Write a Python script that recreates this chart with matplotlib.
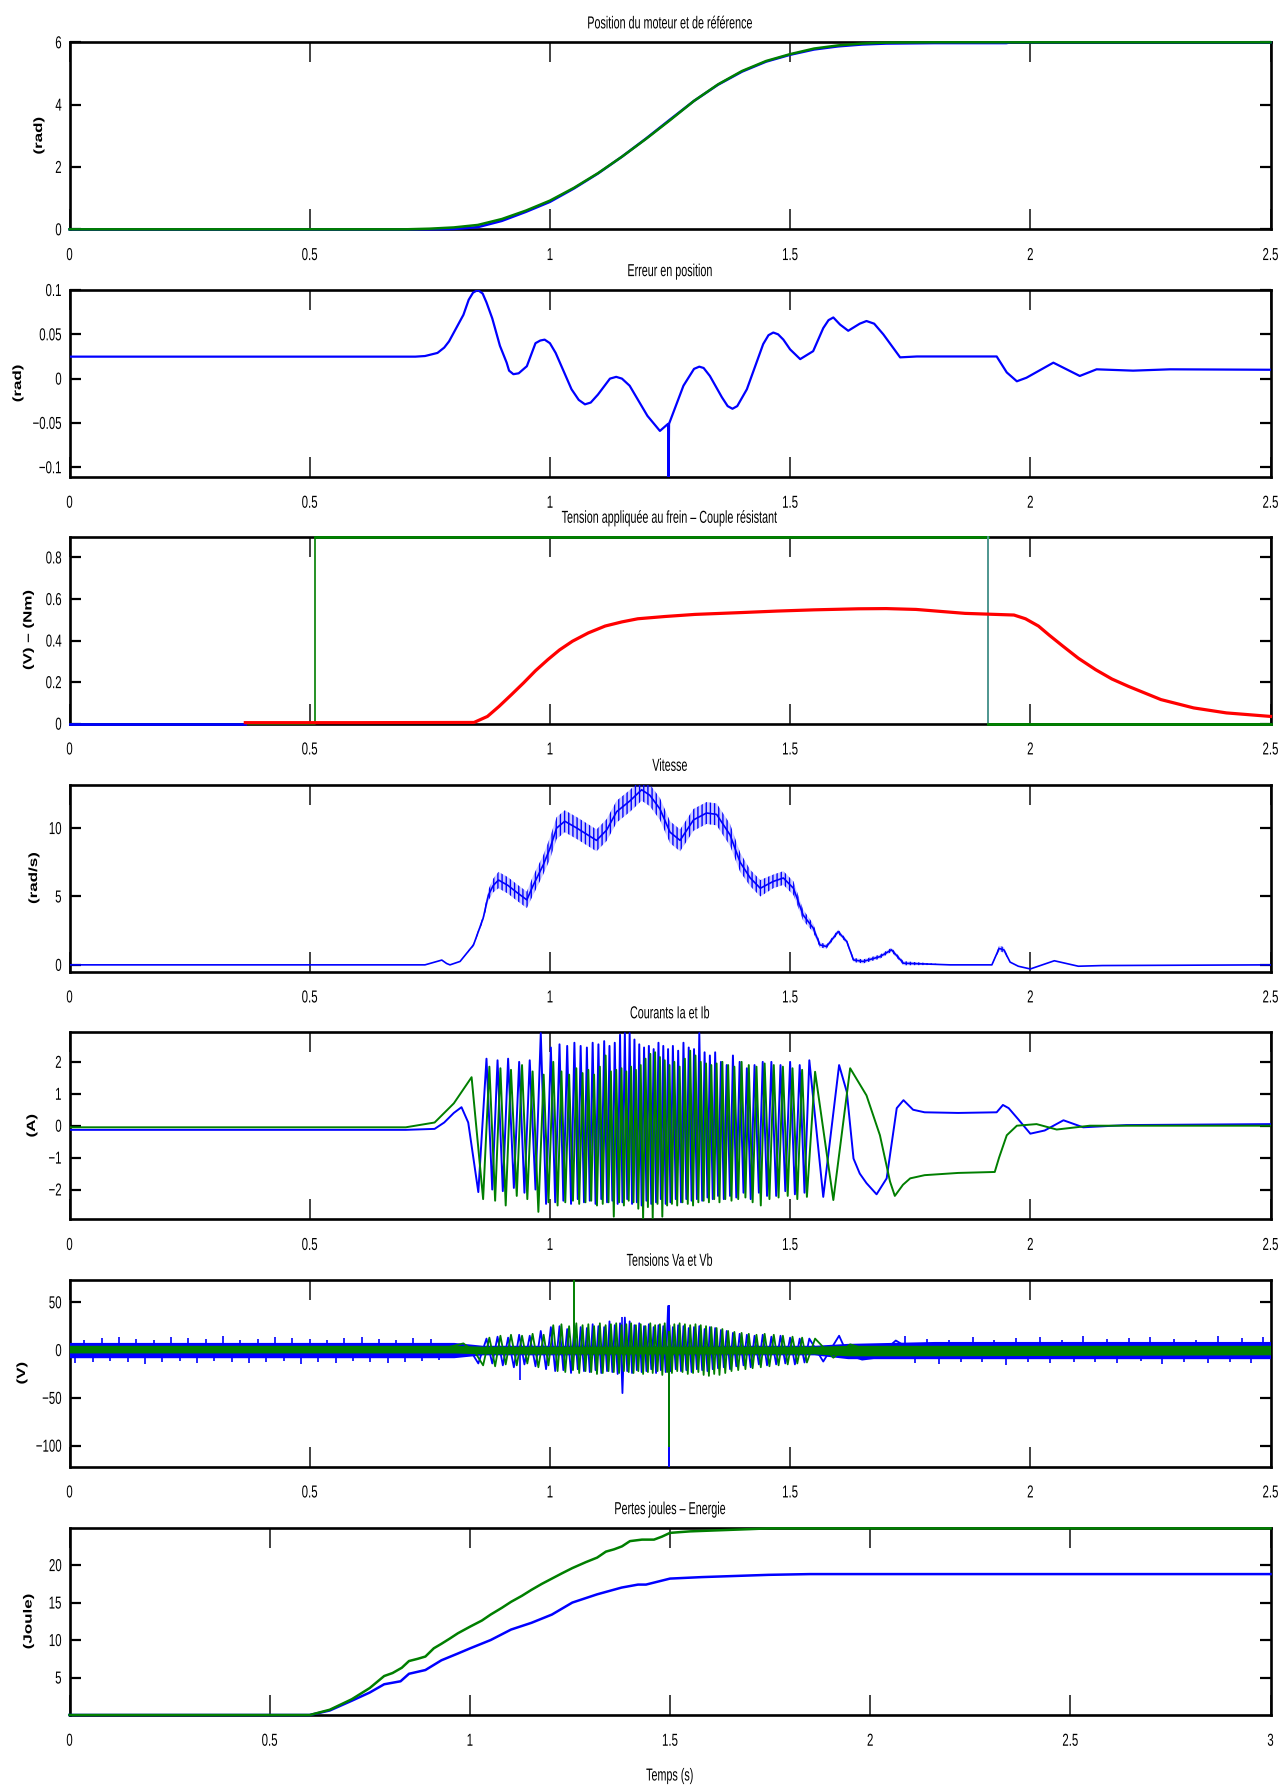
import numpy as np
import matplotlib
matplotlib.use("Agg")
import matplotlib.pyplot as plt
from matplotlib.patheffects import AbstractPathEffect
from matplotlib.transforms import Affine2D

plt.rcParams["font.family"] = ["Liberation Sans", "DejaVu Sans"]
plt.rcParams["hatch.linewidth"] = 1.0

BLUE = "#0000ff"
GREEN = "#007f00"
RED = "#ff0000"
TEAL = "#5b9aa8"

# ------------------------------------------------------------------ data
titles = ["Position du moteur et de référence", "Erreur en position",
          "Tension appliquée au frein – Couple résistant", "Vitesse",
          "Courants Ia et Ib", "Tensions Va et Vb", "Pertes joules – Energie"]
ylabels = ["(rad)", "(rad)", "(V) – (Nm)", "(rad/s)", "(A)", "(V)", "(Joule)"]
xlabel_last = "Temps (s)"

xt_25 = [0, 0.5, 1, 1.5, 2, 2.5]
xtl_25 = ["0", "0.5", "1", "1.5", "2", "2.5"]
xt_3 = [0, 0.5, 1, 1.5, 2, 2.5, 3]
xtl_3 = ["0", "0.5", "1", "1.5", "2", "2.5", "3"]

yt_pos = [0, 2, 4, 6]
ytl_pos = ["0", "2", "4", "6"]
yt_err = [-0.1, -0.05, 0, 0.05, 0.1]
ytl_err = ["\u22120.1", "\u22120.05", "0", "0.05", "0.1"]
yt_brk = [0, 0.2, 0.4, 0.6, 0.8]
ytl_brk = ["0", "0.2", "0.4", "0.6", "0.8"]
yt_vel = [0, 5, 10]
ytl_vel = ["0", "5", "10"]
yt_cur = [-2, -1, 0, 1, 2]
ytl_cur = ["\u22122", "\u22121", "0", "1", "2"]
yt_vol = [-100, -50, 0, 50]
ytl_vol = ["\u2212100", "\u221250", "0", "50"]
yt_en = [5, 10, 15, 20]
ytl_en = ["5", "10", "15", "20"]

# position (rad)
pos_ref_t = [0.0, 0.70, 0.75, 0.80, 0.85, 0.90, 0.95, 1.00, 1.05, 1.10, 1.15, 1.20,
             1.25, 1.30, 1.35, 1.40, 1.45, 1.50, 1.55, 1.60, 1.65, 1.70, 1.80, 2.50]
pos_ref = [0.0, 0.0, 0.02, 0.06, 0.14, 0.33, 0.60, 0.92, 1.33, 1.80, 2.33, 2.90,
           3.50, 4.12, 4.65, 5.08, 5.40, 5.62, 5.80, 5.90, 5.96, 5.99, 6.0, 6.0]
pos_mot_t = [0.0, 0.75, 0.80, 0.85, 0.90, 0.95, 1.00, 1.05, 1.10, 1.15, 1.20, 1.25,
             1.30, 1.35, 1.40, 1.45, 1.50, 1.55, 1.60, 1.65, 1.70, 1.80, 1.95, 1.96, 2.50]
pos_mot = [0.0, 0.0, 0.01, 0.07, 0.27, 0.56, 0.88, 1.31, 1.79, 2.33, 2.91, 3.52,
           4.12, 4.64, 5.06, 5.38, 5.60, 5.77, 5.87, 5.93, 5.96, 5.975, 5.975, 6.0, 6.0]

# position error (rad)
err_t = [0.0, 0.72, 0.74, 0.766, 0.78, 0.79, 0.803, 0.82, 0.831, 0.84, 0.850, 0.86, 0.868,
         0.88, 0.896, 0.91, 0.915, 0.924,
         0.935, 0.952, 0.970, 0.98, 0.989, 1.0, 1.012, 1.045, 1.06, 1.073, 1.085, 1.100,
         1.125, 1.138, 1.15, 1.166, 1.203, 1.229, 1.246, 1.247, 1.248, 1.278, 1.30, 1.311,
         1.32, 1.333, 1.358, 1.37, 1.380, 1.39, 1.410, 1.444, 1.455, 1.465, 1.475, 1.486,
         1.500, 1.521, 1.548, 1.569, 1.58, 1.590, 1.604, 1.621, 1.645, 1.659, 1.675, 1.694,
         1.729, 1.764, 1.930, 1.951, 1.972, 1.992, 2.048, 2.103, 2.138, 2.214, 2.291, 2.5]
err_v = [0.0248, 0.0248, 0.0255, 0.029, 0.035, 0.042, 0.055, 0.072, 0.089, 0.097, 0.100, 0.096,
         0.086, 0.068, 0.037, 0.018, 0.009, 0.005,
         0.006, 0.014, 0.040, 0.043, 0.044, 0.040, 0.029, -0.012, -0.024, -0.029, -0.027, -0.018,
         0.0, 0.002, 0.0, -0.008, -0.042, -0.059, -0.051, -0.120, -0.051, -0.008, 0.011, 0.0135,
         0.012, 0.003, -0.021, -0.031, -0.034, -0.031, -0.012, 0.039, 0.049, 0.052, 0.050, 0.044,
         0.033, 0.022, 0.031, 0.057, 0.066, 0.069, 0.061, 0.054, 0.062, 0.065, 0.062, 0.050,
         0.024, 0.025, 0.025, 0.007, -0.003, 0.001, 0.018, 0.003, 0.0105, 0.009, 0.0105, 0.010]

# brake voltage / resistive torque
brake_v_t = [0.0, 0.366]
brake_v = [0.0, 0.0]
torque_t = [0.366, 0.60, 0.842, 0.87, 0.894, 0.92, 0.945, 0.97, 0.996, 1.02, 1.047, 1.08,
            1.115, 1.15, 1.183, 1.24, 1.302, 1.40, 1.472, 1.55, 1.642, 1.70, 1.762, 1.864,
            1.966, 1.99, 2.017, 2.04, 2.068, 2.10, 2.136, 2.17, 2.204, 2.272, 2.340, 2.408, 2.5]
torque = [0.005, 0.005, 0.006, 0.035, 0.083, 0.14, 0.196, 0.255, 0.309, 0.355, 0.397, 0.437,
          0.470, 0.490, 0.505, 0.516, 0.526, 0.535, 0.542, 0.548, 0.553, 0.554, 0.550, 0.531,
          0.523, 0.505, 0.470, 0.425, 0.373, 0.315, 0.26, 0.215, 0.18, 0.116, 0.076, 0.052, 0.035]
cmd_t = [0.0, 0.511, 0.511, 1.911, 1.911, 2.5]
cmd_v = [0.0, 0.0, 0.9, 0.9, 0.0, 0.0]

# speed (rad/s) with ripple half-width
vel_t = [0.0, 0.74, 0.765, 0.775, 0.785, 0.792, 0.813, 0.841, 0.861, 0.872, 0.882, 0.893,
         0.913, 0.931, 0.952, 0.965, 0.986, 1.0, 1.014, 1.031, 1.056, 1.097, 1.118, 1.139,
         1.167, 1.191, 1.208, 1.229, 1.25, 1.271, 1.299, 1.326, 1.347, 1.375, 1.396, 1.417,
         1.438, 1.465, 1.486, 1.507, 1.527, 1.548, 1.562, 1.576, 1.60, 1.618, 1.632, 1.652,
         1.687, 1.711, 1.736, 1.833, 1.92, 1.935, 1.945, 1.958, 1.975, 2.0, 2.05, 2.1, 2.15, 2.5]
vel_v = [0.0, 0.0, 0.25, 0.35, 0.1, 0.0, 0.25, 1.46, 3.4, 5.1, 5.8, 6.2,
         5.8, 5.3, 4.75, 5.8, 7.3, 8.5, 10.0, 10.5, 10.0, 9.1, 9.85, 11.2,
         12.0, 12.8, 12.4, 11.4, 9.7, 9.1, 10.6, 11.1, 11.0, 9.5, 7.5, 6.35,
         5.6, 6.1, 6.35, 5.6, 3.65, 2.7, 1.46, 1.34, 2.43, 1.7, 0.36, 0.25,
         0.6, 1.1, 0.12, 0.0, 0.0, 1.2, 1.1, 0.2, -0.1, -0.3, 0.3, -0.1, -0.05, 0.0]
vel_r = [0, 0, 0, 0, 0, 0, 0, 0.1, 0.2, 0.4, 0.5, 0.6,
         0.6, 0.6, 0.6, 0.7, 0.7, 0.8, 0.8, 0.8, 0.8, 0.8, 0.8, 0.8,
         0.8, 0.8, 0.8, 0.8, 0.8, 0.8, 0.8, 0.8, 0.8, 0.8, 0.7, 0.6,
         0.6, 0.5, 0.5, 0.5, 0.4, 0.3, 0.2, 0.15, 0.15, 0.15, 0.15, 0.15,
         0.15, 0.15, 0.15, 0, 0, 0.2, 0.2, 0, 0, 0, 0, 0, 0, 0]

# phase current Ia (blue): before, crests, troughs, after
ia_pre_t = [0.0, 0.70, 0.76, 0.78, 0.80, 0.816, 0.830, 0.851]
ia_pre = [-0.13, -0.13, -0.10, 0.10, 0.40, 0.58, 0.10, -2.08]
ia_crest_t = [0.868, 0.891, 0.913, 0.936, 0.958, 0.981,
              1.002, 1.020, 1.036, 1.051, 1.064, 1.077, 1.089, 1.101, 1.113, 1.124, 1.135, 1.146,
              1.156, 1.166, 1.176, 1.186, 1.196, 1.206, 1.216, 1.226, 1.236, 1.246, 1.256, 1.267,
              1.278, 1.289, 1.300,
              1.311, 1.322, 1.333, 1.344, 1.356, 1.368, 1.381, 1.395, 1.410, 1.426, 1.443, 1.461,
              1.480, 1.500, 1.520, 1.540, 1.602]
ia_crest = [2.10, 2.05, 2.10, 2.00, 2.05, 2.90,
            2.45, 2.55, 2.50, 2.60, 2.50, 2.45, 2.60, 2.55, 2.65, 2.50, 2.60, 2.85,
            2.90, 2.90, 2.70, 2.55, 2.45, 2.50, 2.40, 2.60, 2.50, 2.40, 2.50, 2.35, 2.60, 2.45, 2.40,
            2.90, 2.30, 2.20, 2.30, 2.00, 1.90, 2.20, 2.00, 1.80, 1.90, 2.00, 2.00, 1.90, 2.00,
            1.90, 2.05, 1.90]
ia_trough_t = [0.880, 0.902, 0.925, 0.947, 0.970, 0.992,
               1.011, 1.028, 1.044, 1.058, 1.071, 1.083, 1.095, 1.107, 1.119, 1.130, 1.141, 1.151,
               1.161, 1.171, 1.181, 1.191, 1.201, 1.211, 1.221, 1.231, 1.241, 1.251, 1.262, 1.273,
               1.284, 1.295, 1.306,
               1.317, 1.328, 1.339, 1.350, 1.362, 1.375, 1.388, 1.403, 1.418, 1.435, 1.452, 1.471,
               1.490, 1.510, 1.530, 1.569]
ia_trough = [-2.00, -2.05, -1.95, -2.10, -2.00, -2.45,
             -2.40, -2.35, -2.45, -2.30, -2.40, -2.35, -2.45, -2.30, -2.40, -2.35, -2.45, -2.40,
             -2.30, -2.45, -2.40, -2.50, -2.35, -2.45, -2.40, -2.30, -2.45, -2.40, -2.30, -2.40,
             -2.30, -2.35, -2.30,
             -2.35, -2.25, -2.30, -2.20, -2.30, -2.20, -2.25, -2.10, -2.30, -2.10, -2.20, -2.20,
             -2.05, -2.15, -2.10, -2.23]
ia_post_t = [1.618, 1.632, 1.645, 1.659, 1.680, 1.701, 1.722, 1.736, 1.756, 1.780,
             1.850, 1.930, 1.943, 1.955, 1.975, 2.000, 2.030, 2.069, 2.110, 2.200, 2.500]
ia_post = [1.06, -1.03, -1.50, -1.80, -2.15, -1.65, 0.55, 0.80, 0.50, 0.42,
           0.40, 0.42, 0.65, 0.55, 0.20, -0.25, -0.15, 0.17, -0.05, 0.02, 0.05]

# phase current Ib (green)
ib_pre_t = [0.0, 0.70, 0.76, 0.80, 0.837, 0.861]
ib_pre = [-0.05, -0.05, 0.10, 0.70, 1.52, -2.30]
ib_crest_t = [0.874, 0.897, 0.919, 0.942, 0.964, 0.987,
              1.007, 1.024, 1.040, 1.055, 1.068, 1.080, 1.092, 1.104, 1.116, 1.127, 1.138, 1.149,
              1.159, 1.169, 1.179, 1.189, 1.199, 1.209, 1.219, 1.229, 1.239, 1.249, 1.259, 1.270,
              1.281, 1.292, 1.303,
              1.314, 1.325, 1.336, 1.347, 1.359, 1.371, 1.384, 1.399, 1.414, 1.430, 1.447, 1.466,
              1.485, 1.505, 1.525, 1.552, 1.625]
ib_crest = [1.85, 1.80, 1.75, 1.90, 1.70, 1.60,
            2.00, 1.70, 1.60, 1.80, 1.65, 1.75, 1.60, 1.85, 2.20, 1.70, 1.75, 1.80,
            1.70, 1.85, 1.75, 1.90, 2.10, 2.25, 2.30, 2.15, 2.05, 1.90, 2.00, 1.85, 2.10, 2.35, 2.20,
            2.00, 1.95, 1.90, 1.95, 2.00, 1.90, 1.85, 2.00, 1.90, 1.85, 1.95, 1.90, 1.85, 1.80,
            1.75, 1.69, 1.80]
ib_trough_t = [0.886, 0.908, 0.931, 0.953, 0.976, 0.997,
               1.016, 1.032, 1.048, 1.061, 1.074, 1.086, 1.098, 1.110, 1.122, 1.133, 1.144, 1.154,
               1.164, 1.174, 1.184, 1.194, 1.204, 1.214, 1.224, 1.234, 1.244, 1.254, 1.265, 1.276,
               1.287, 1.298, 1.309,
               1.320, 1.331, 1.342, 1.353, 1.365, 1.378, 1.392, 1.407, 1.422, 1.439, 1.457, 1.476,
               1.495, 1.515, 1.535, 1.590]
ib_trough = [-2.35, -2.50, -2.20, -2.30, -2.70, -2.40,
             -2.50, -2.40, -2.35, -2.45, -2.40, -2.35, -2.50, -2.45, -2.40, -2.85, -2.40, -2.50,
             -2.35, -2.40, -2.60, -2.90, -2.55, -2.90, -2.45, -2.85, -2.50, -2.45, -2.50, -2.40,
             -2.45, -2.50, -2.40,
             -2.35, -2.40, -2.30, -2.40, -2.30, -2.35, -2.30, -2.25, -2.40, -2.50, -2.30, -2.25,
             -2.20, -2.30, -2.23, -2.33]
ib_post_t = [1.659, 1.687, 1.708, 1.718, 1.735, 1.750, 1.780, 1.850, 1.926, 1.935,
             1.951, 1.972, 2.013, 2.055, 2.124, 2.500]
ib_post = [0.95, -0.30, -1.75, -2.20, -1.85, -1.65, -1.55, -1.48, -1.45, -1.00,
           -0.30, 0.00, 0.05, -0.12, 0.00, 0.00]

# phase voltages: swings at the same electrical crests/troughs as the currents
va_pre_t = [0.0, 0.78, 0.82, 0.840, 0.851]
va_pre = [0.0, 1.0, 5.0, -5.0, -14.0]
va_hi = [12, 14, 13, 16, 15, 20,
         24, 25, 22, 26, 24, 23, 27, 25, 24, 30, 26, 28,
         34, 30, 26, 28, 25, 27, 24, 26, 25, 46, 24, 26, 25, 23, 24,
         25, 22, 24, 23, 21, 20, 18, 17, 16, 15, 16, 14, 15, 13, 12, 12, 15]
va_lo = [-14, -16, -18, -15, -17, -20,
         -22, -21, -24, -20, -22, -23, -21, -24, -22, -23, -25, -45,
         -22, -24, -21, -23, -22, -20, -24, -21, -23, -22, -20, -22, -21, -23, -20,
         -21, -22, -20, -19, -18, -20, -17, -16, -18, -15, -16, -15, -14, -15, -13, -12]
va_post_t = [1.62, 1.65, 1.68, 1.72, 1.76, 1.85, 2.5]
va_post = [-5.0, -10.0, -8.0, 10.0, -2.0, -3.0, -2.0]
vb_pre_t = [0.0, 0.78, 0.82, 0.845, 0.861]
vb_pre = [0.0, 2.0, 7.0, -3.0, -16.0]
vb_hi = [13, 15, 16, 15, 17, 16,
         26, 27, 25, 28, 26, 27, 25, 28, 26, 27, 28, 26,
         27, 28, 26, 27, 25, 28, 26, 27, 28, 26, 27, 28, 27, 26, 27,
         26, 25, 24, 23, 22, 20, 19, 18, 17, 16, 17, 16, 15, 14, 13, 12, 6]
vb_lo = [-17, -15, -16, -14, -18, -16,
         -22, -23, -21, -24, -22, -23, -25, -24, -22, -23, -24, -22,
         -23, -24, -22, -25, -23, -24, -22, -26, -23, -24, -22, -23, -25, -24, -23,
         -26, -27, -25, -26, -24, -22, -21, -20, -19, -18, -17, -16, -15, -14, -13, -8]
vb_post_t = [1.65, 1.70, 1.80, 2.5]
vb_post = [2.0, -3.0, -3.0, -1.0]
# noise bands
va_band_t = [0.0, 0.40, 0.80, 0.86, 1.55, 1.62, 1.80, 2.10, 2.50]
va_band_hi = [8, 8, 8, 5, 5, 7, 9, 9, 9]
va_band_lo = [-8, -8, -8, -5, -5, -9, -9, -9, -9]
vb_band_t = [0.0, 0.80, 0.86, 1.55, 1.62, 1.80, 2.50]
vb_band_hi = [5, 5, 4, 4, 5, 5, 5]
vb_band_lo = [-3, -3, -4, -4, -6, -6, -5]
va_spk_t = [0.012, 0.031, 0.048, 0.067, 0.085, 0.104, 0.121, 0.139, 0.158, 0.176,
            0.193, 0.212, 0.229, 0.247, 0.266, 0.284, 0.301, 0.320, 0.338, 0.355,
            0.374, 0.392, 0.409, 0.428, 0.446, 0.463, 0.482, 0.500, 0.517, 0.536,
            0.554, 0.571, 0.590, 0.608, 0.625, 0.644, 0.662, 0.679, 0.698, 0.716,
            0.733, 0.752, 0.770,
            0.937, 1.151,
            1.74, 1.76, 1.785, 1.81, 1.83, 1.855, 1.88, 1.90, 1.925, 1.95,
            1.97, 1.995, 2.02, 2.04, 2.065, 2.09, 2.11, 2.135, 2.16, 2.18,
            2.205, 2.23, 2.25, 2.275, 2.30, 2.32, 2.345, 2.37, 2.39, 2.415,
            2.44, 2.46, 2.485]
va_spk = [-14, 11, -12, 13, -11, 14, -13, 12, -15, 11,
          -12, 14, -11, 13, -14, 12, -11, 15, -13, 11,
          -14, 12, -12, 14, -11, 13, -15, 12, -12, 11,
          -14, 13, -11, 14, -13, 12, -14, 11, -12, 13,
          -11, 12, -10,
          -31, 35,
          15, -14, 12, -15, 11, -13, 14, -12, 11, -16,
          13, -12, 14, -14, 11, -13, 15, -12, 12, -14,
          13, -11, 14, -15, 12, -13, 11, -14, 15, -12,
          13, -14, 14]
va_big_t = [1.248]
va_big_lo = [-125]
va_big_hi = [46.7]
vb_big_t = [1.050, 1.248]
vb_big_lo = [-5, -101.6]
vb_big_hi = [74, 20]

# energies (Joule), 0..3 s
en_g_t = [0.0, 0.60, 0.65, 0.705, 0.75, 0.786, 0.807, 0.83, 0.848, 0.87, 0.889, 0.91, 0.929,
          0.95, 0.970, 1.001, 1.03, 1.052, 1.08, 1.103, 1.13, 1.154, 1.18, 1.205, 1.23, 1.256,
          1.29, 1.318, 1.34, 1.36, 1.38, 1.40, 1.43, 1.46, 1.48, 1.50, 1.55, 1.60, 1.70, 1.746, 3.0]
en_g = [0.0, 0.0, 0.7, 2.1, 3.6, 5.2, 5.6, 6.3, 7.2, 7.5, 7.8, 8.9, 9.5,
        10.2, 10.9, 11.8, 12.6, 13.4, 14.3, 15.1, 15.9, 16.7, 17.5, 18.2, 18.9, 19.6,
        20.4, 21.0, 21.8, 22.1, 22.5, 23.2, 23.4, 23.4, 23.8, 24.3, 24.5, 24.6, 24.8, 24.9, 24.9]
en_b_t = [0.0, 0.60, 0.65, 0.705, 0.75, 0.786, 0.827, 0.848, 0.889, 0.929, 0.970, 1.001, 1.052,
          1.103, 1.154, 1.205, 1.256, 1.318, 1.379, 1.42, 1.44, 1.50, 1.58, 1.746, 1.85, 3.0]
en_b = [0.0, 0.0, 0.6, 1.9, 3.0, 4.1, 4.5, 5.5, 6.0, 7.3, 8.2, 8.9, 10.0,
        11.4, 12.3, 13.4, 15.0, 16.1, 17.0, 17.4, 17.4, 18.2, 18.4, 18.7, 18.8, 18.8]


# ------------------------------------------------------------------ helpers
class Condense(AbstractPathEffect):
    """Draw text glyphs horizontally squeezed (narrow type look)."""
    def __init__(self, sx, anchor="center"):
        super().__init__()
        self.sx = sx
        self.anchor = anchor

    def draw_path(self, renderer, gc, tpath, affine, rgbFace=None):
        if len(tpath.vertices) == 0:
            return
        ext = tpath.get_extents()
        if self.anchor == "right":
            cx = ext.x1
        elif self.anchor == "left":
            cx = ext.x0
        else:
            cx = 0.5 * (ext.x0 + ext.x1)
        pre = Affine2D().translate(-cx, 0).scale(self.sx, 1.0).translate(cx, 0)
        renderer.draw_path(gc, tpath, pre + affine, rgbFace)


def zig(ct, cv, tt, tv):
    assert len(ct) == len(cv) and len(tt) == len(tv), (len(ct), len(cv), len(tt), len(tv))
    t = np.array(list(ct) + list(tt), dtype=float)
    v = np.array(list(cv) + list(tv), dtype=float)
    o = np.argsort(t)
    return t[o], v[o]


W, H = 1282, 1789
AX_L, AX_R, AX_H = 69.5, 1270.5, 187.0
tops = [42.3, 290.0, 536.7, 784.7, 1032.2, 1279.7, 1528.0]
ylab_x = [39, 18, 28.5, 34, 32, 22, 28.6]
FS = 12.5
SX_TICK = 0.66
SX_TITLE = 0.62

fig = plt.figure(figsize=(W / 100, H / 100), dpi=100)
axes = [fig.add_axes([AX_L / W, 1 - (tp + AX_H) / H, (AX_R - AX_L) / W, AX_H / H]) for tp in tops]


def style(ax, i, xlim, xt, xtl, ylim, yt, ytl):
    ax.set_xlim(xlim)
    ax.set_ylim(ylim)
    ax.set_xticks(xt)
    ax.set_xticklabels(xtl)
    ax.set_yticks(yt)
    ax.set_yticklabels(ytl)
    for s in ax.spines.values():
        s.set_linewidth(1.9)
    ax.tick_params(axis="x", direction="in", length=14.5, width=1.3, top=True, bottom=True,
                   pad=13.5, labelsize=FS, color="#333333")
    ax.tick_params(axis="y", direction="in", length=8, width=1.6, left=True, right=True,
                   pad=5.5, labelsize=FS)
    for lab in ax.get_xticklabels():
        lab.set_path_effects([Condense(SX_TICK, "center")])
    for lab in ax.get_yticklabels():
        lab.set_path_effects([Condense(SX_TICK, "right")])
    t = ax.set_title(titles[i], fontsize=FS, pad=10)
    t.set_path_effects([Condense(SX_TITLE, "center")])
    yl = ax.set_ylabel(ylabels[i], fontsize=8.6, fontweight="bold", va="center")
    yl.set_path_effects([Condense(1.42, "center")])
    ax.yaxis.set_label_coords((ylab_x[i] - AX_L) / (AX_R - AX_L), 0.5)


# 1 position
ax = axes[0]
ax.plot(pos_mot_t, pos_mot, color=BLUE, lw=1.8, zorder=3, clip_on=False)
ax.plot(pos_ref_t, pos_ref, color=GREEN, lw=1.8, zorder=3, clip_on=False)
style(ax, 0, (0, 2.5), xt_25, xtl_25, (0, 6), yt_pos, ytl_pos)

# 2 error
ax = axes[1]
ax.plot(err_t, err_v, color=BLUE, lw=1.6, zorder=3)
style(ax, 1, (0, 2.5), xt_25, xtl_25, (-0.111, 0.1), yt_err, ytl_err)

# 3 brake
ax = axes[2]
ax.plot(cmd_t, cmd_v, color=GREEN, lw=1.2, zorder=3, clip_on=False)
ax.plot(cmd_t[2:4], cmd_v[2:4], color=GREEN, lw=2.0, zorder=3, clip_on=False)
ax.plot(cmd_t[3:5], cmd_v[3:5], color=TEAL, lw=1.2, zorder=3, clip_on=False)
ax.plot(cmd_t[4:], cmd_v[4:], color=GREEN, lw=2.0, zorder=3, clip_on=False)
ax.plot(brake_v_t, brake_v, color=BLUE, lw=2.0, zorder=3, clip_on=False)
ax.plot(torque_t, torque, color=RED, lw=2.3, zorder=3, clip_on=False)
style(ax, 2, (0, 2.5), xt_25, xtl_25, (0, 0.9), yt_brk, ytl_brk)

# 4 speed (ripple band drawn as a hatched strip)
ax = axes[3]
vt = np.array(vel_t)
vv = np.array(vel_v)
vr = np.array(vel_r)
ax.fill_between(vt, vv - vr, vv + vr, facecolor=(0, 0, 1, 0.2), edgecolor=BLUE,
                hatch="||||", lw=0, zorder=3)
ax.plot(vt, vv, color=BLUE, lw=1.2, zorder=3)
style(ax, 3, (0, 2.5), xt_25, xtl_25, (-0.5, 13.17), yt_vel, ytl_vel)

# 5 currents
ax = axes[4]
zt, zv = zig(ia_crest_t, ia_crest, ia_trough_t, ia_trough)
ax.plot(np.concatenate([ia_pre_t, zt, ia_post_t]), np.concatenate([ia_pre, zv, ia_post]),
        color=BLUE, lw=1.4, zorder=3)
zt, zv = zig(ib_crest_t, ib_crest, ib_trough_t, ib_trough)
ax.plot(np.concatenate([ib_pre_t, zt, ib_post_t]), np.concatenate([ib_pre, zv, ib_post]),
        color=GREEN, lw=1.4, zorder=3)
style(ax, 4, (0, 2.5), xt_25, xtl_25, (-2.93, 2.93), yt_cur, ytl_cur)

# 6 voltages
ax = axes[5]
ax.fill_between(va_band_t, va_band_lo, va_band_hi, color=BLUE, lw=0, zorder=3)
ax.vlines(va_spk_t, 0, va_spk, color=BLUE, lw=1.2, zorder=3)
zt, zv = zig(ia_crest_t, va_hi, ia_trough_t, va_lo)
ax.plot(np.concatenate([va_pre_t, zt, va_post_t]), np.concatenate([va_pre, zv, va_post]),
        color=BLUE, lw=1.3, zorder=3)
ax.fill_between(vb_band_t, vb_band_lo, vb_band_hi, color=GREEN, lw=0, zorder=3)
zt, zv = zig(ib_crest_t, vb_hi, ib_trough_t, vb_lo)
ax.plot(np.concatenate([vb_pre_t, zt, vb_post_t]), np.concatenate([vb_pre, zv, vb_post]),
        color=GREEN, lw=1.3, zorder=3)
ax.vlines(va_big_t, va_big_lo, va_big_hi, color=BLUE, lw=1.4, zorder=3)
ax.vlines(vb_big_t, vb_big_lo, vb_big_hi, color=GREEN, lw=1.4, zorder=3)
style(ax, 5, (0, 2.5), xt_25, xtl_25, (-122, 73.6), yt_vol, ytl_vol)

# 7 energy
ax = axes[6]
ax.plot(en_b_t, en_b, color=BLUE, lw=1.8, zorder=3, clip_on=False)
ax.plot(en_g_t, en_g, color=GREEN, lw=1.8, zorder=3, clip_on=False)
style(ax, 6, (0, 3), xt_3, xtl_3, (0, 24.95), yt_en, ytl_en)
xl = ax.set_xlabel(xlabel_last, fontsize=FS, va="center")
xl.set_path_effects([Condense(SX_TITLE, "center")])
ax.xaxis.set_label_coords(0.5, -(1776 - (1528 + AX_H)) / AX_H)

fig.savefig("out.png", dpi=100)
